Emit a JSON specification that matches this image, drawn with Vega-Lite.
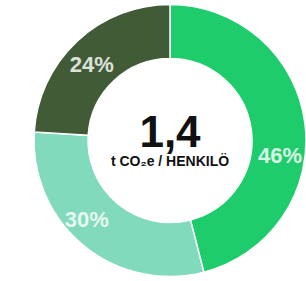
{
  "$schema": "https://vega.github.io/schema/vega-lite/v6.json",
  "width": 272,
  "height": 281,
  "autosize": "none",
  "padding": {"left": 34, "top": 0, "right": 0, "bottom": 0},
  "background": "white",
  "view": {"stroke": null},
  "data": {
    "values": [
      {"category": "Vihreä", "value": 46, "label": "46%", "order": 1},
      {"category": "Minttu", "value": 30, "label": "30%", "order": 2},
      {"category": "Tumma", "value": 24, "label": "24%", "order": 3}
    ]
  },
  "layer": [
    {
      "mark": {"type": "arc", "innerRadius": 82, "outerRadius": 136, "stroke": "white", "strokeWidth": 1.5},
      "encoding": {
        "theta": {"field": "value", "type": "quantitative", "stack": true},
        "order": {"field": "order", "type": "quantitative"},
        "color": {
          "field": "category",
          "type": "nominal",
          "scale": {"domain": ["Vihreä", "Minttu", "Tumma"], "range": ["#1fcc6c", "#80dabb", "#415b37"]},
          "legend": null
        }
      }
    },
    {
      "mark": {
        "type": "text", "radius": 110, "font": "Liberation Sans", "fontWeight": "bold", "fontSize": 22,
        "fill": "white", "opacity": 0.82,
        "dx": {"expr": "datum.order == 1 ? 1 : datum.order == 2 ? -13 : -3"},
        "dy": {"expr": "datum.order == 1 ? 29 : datum.order == 2 ? -5 : 5"}
      },
      "encoding": {
        "theta": {"field": "value", "type": "quantitative", "stack": true},
        "order": {"field": "order", "type": "quantitative"},
        "text": {"field": "label", "type": "nominal"}
      }
    },
    {
      "data": {"values": [{"t": "1,4"}]},
      "mark": {"type": "text", "font": "Liberation Sans", "fontWeight": "bold", "fontSize": 44, "fill": "#111111", "baseline": "alphabetic", "align": "center", "dy": 6},
      "encoding": {"text": {"field": "t", "type": "nominal"}}
    },
    {
      "data": {"values": [{"t": "t CO₂e / HENKILÖ"}]},
      "mark": {"type": "text", "font": "Liberation Sans", "fontWeight": "bold", "fontSize": 14, "letterSpacing": 1.3, "fill": "#111111", "baseline": "alphabetic", "align": "center", "dy": 25},
      "encoding": {"text": {"field": "t", "type": "nominal"}}
    }
  ]
}
